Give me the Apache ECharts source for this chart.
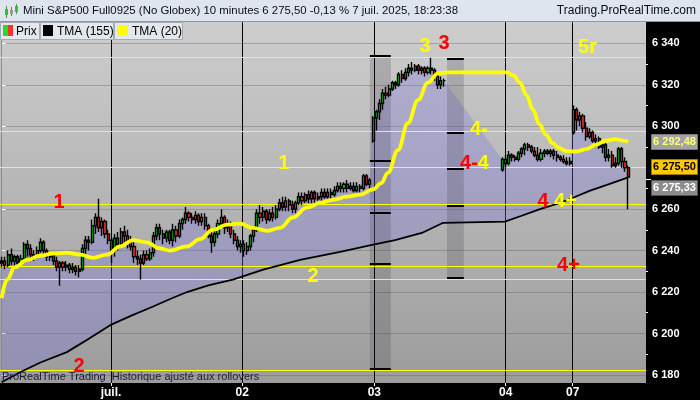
<!DOCTYPE html>
<html><head><meta charset="utf-8">
<script src="https://cdn.jsdelivr.net/npm/echarts@6/dist/echarts.min.js"></script>
<style>html,body{margin:0;padding:0;background:#000}#c{width:700px;height:400px}</style>
</head><body><div id="c"></div>
<script>
// ---------- DATA ----------
// bars are indexed by 10-minute slot; first block starts at slot 0, second block after the holiday gap
const startA = 0;
const candlesA = [ // [open, close, low, high]
[6234,6235,6232,6237],[6235,6233,6231,6237],[6233,6238,6232,6240],[6238,6235,6233,6241],[6235,6237,6232,6238],
[6237,6234,6232,6238],[6234,6236,6233,6238],[6236,6243,6235,6244],[6243,6241,6237,6245],[6241,6238,6236,6243],
[6238,6237,6235,6240],[6237,6240,6236,6242],[6240,6244,6239,6246],[6244,6240,6238,6245],[6240,6237,6235,6241],
[6237,6238,6235,6239],[6238,6235,6233,6239],[6235,6232,6230,6237],[6232,6234,6223,6235],[6234,6232,6230,6235],
[6232,6233,6230,6235],[6233,6231,6229,6234],[6231,6232,6229,6234],[6232,6230,6228,6233],[6230,6231,6227,6233],
[6231,6241,6230,6243],[6241,6245,6238,6247],[6245,6244,6240,6247],[6244,6252,6243,6255],[6252,6256,6248,6258],
[6256,6251,6249,6265],[6251,6254,6247,6256],[6254,6248,6246,6255],[6248,6245,6243,6250],
[6245,6240,6234,6246],[6240,6246,6237,6248],[6246,6243,6240,6249],[6243,6249,6242,6251],[6249,6247,6244,6252],
[6247,6244,6241,6250],[6244,6242,6240,6247],[6242,6237,6234,6244],[6237,6236,6233,6240],[6236,6234,6226,6238],
[6234,6238,6233,6240],[6238,6236,6235,6240],[6236,6239,6235,6241],[6239,6247,6237,6249],[6247,6251,6245,6253],
[6251,6248,6245,6253],[6248,6246,6243,6250],[6246,6249,6244,6250],[6249,6245,6243,6250],[6245,6250,6242,6253],
[6250,6247,6244,6252],[6247,6253,6246,6255],[6253,6255,6250,6256],[6255,6258,6253,6261],[6258,6256,6254,6259],
[6256,6255,6253,6258],[6255,6257,6253,6259],[6257,6254,6252,6258],[6254,6256,6252,6258],[6256,6252,6250,6258],
[6252,6247,6246,6253],[6247,6244,6239,6249],[6244,6248,6242,6250],[6248,6253,6246,6255],[6253,6256,6251,6260],
[6256,6251,6248,6257],[6251,6253,6249,6255],[6253,6248,6246,6254],[6248,6245,6243,6250],[6245,6242,6240,6247],
[6242,6243,6239,6245],
[6243,6240,6237,6245],[6240,6242,6238,6244],[6242,6247,6240,6248],[6247,6250,6244,6251],[6250,6258,6249,6260],
[6258,6256,6253,6262],[6256,6259,6254,6261],[6259,6255,6253,6260],[6255,6258,6254,6260],[6258,6256,6254,6261],
[6256,6260,6255,6262],[6260,6263,6259,6265],[6263,6261,6259,6266],[6261,6264,6259,6266],[6264,6262,6259,6265],
[6262,6260,6258,6264],[6260,6263,6258,6264],[6263,6266,6262,6268],[6266,6264,6262,6268],[6264,6267,6263,6268],
[6267,6265,6263,6269],[6265,6268,6263,6269],[6268,6265,6263,6269],[6265,6266,6264,6268],[6266,6268,6264,6270],
[6268,6266,6265,6270],[6266,6268,6265,6270],[6268,6267,6265,6270],[6267,6269,6266,6271],[6269,6271,6268,6273],
[6271,6270,6268,6273],[6270,6272,6268,6273],[6272,6270,6268,6274],[6270,6271,6269,6273],[6271,6269,6268,6273],
[6269,6271,6268,6273],[6271,6270,6268,6272],[6270,6276,6269,6277],[6276,6272,6271,6277],[6272,6274,6270,6275],
[6293,6304,6292,6305],[6304,6307,6298,6308],[6307,6311,6303,6313],[6311,6316,6308,6318],[6316,6315,6313,6319],
[6315,6318,6314,6320],[6318,6321,6317,6322],[6321,6320,6318,6322],[6320,6325,6319,6326],[6325,6323,6321,6327],
[6323,6326,6322,6328],[6326,6328,6324,6330],[6328,6327,6325,6331],[6327,6329,6326,6330],[6329,6327,6325,6330],
[6327,6328,6325,6329],[6328,6326,6324,6329],[6326,6328,6325,6329],[6328,6327,6325,6333],[6327,6324,6322,6328],
[6324,6320,6318,6326],[6320,6322,6318,6324],[6322,6322,6319,6323]
];
const startB = 155;
const candlesB = [
[6279,6284,6278,6285],[6284,6282,6280,6286],[6282,6286,6281,6288],[6286,6285,6283,6287],[6285,6284,6283,6286],
[6284,6287,6283,6288],[6287,6289,6285,6290],[6289,6291,6286,6292],[6291,6290,6288,6292],[6290,6288,6287,6291],
[6288,6286,6285,6290],[6286,6284,6283,6290],[6284,6287,6283,6289],[6287,6288,6285,6289],[6288,6287,6286,6289],
[6287,6288,6285,6289],[6288,6286,6284,6289],[6286,6285,6283,6288],[6285,6284,6283,6286],[6284,6283,6282,6286],
[6283,6282,6281,6285],[6282,6283,6281,6285],
[6297,6308,6296,6310],[6308,6303,6298,6309],[6303,6305,6300,6307],[6305,6299,6297,6306],[6299,6295,6293,6302],
[6295,6297,6294,6299],[6297,6293,6292,6298],[6293,6294,6290,6296],[6294,6290,6289,6295],[6290,6291,6287,6293],
[6291,6285,6283,6292],[6285,6286,6283,6289],[6286,6281,6280,6288],[6281,6282,6280,6285],[6282,6289,6281,6290],
[6289,6283,6280,6290],[6283,6280,6278,6285],[6280,6275.5,6260,6281]
];
const tma20 = [
[0,6217],[1.7,6226],[4.1,6232],[7.9,6235.5],[11.9,6237.5],[16,6238.6],[20.2,6239],[24.3,6238],[28.3,6236.5],
[32.6,6238],[36.7,6242],[40.7,6245],[45,6244],[49,6241],[52.1,6240],[57.4,6242],[61.4,6245.5],[65.4,6250],
[69.8,6252.5],[73.8,6253],[77.8,6251],[82.2,6249.5],[86.2,6251],[90.2,6256],[94.5,6260.7],[98.6,6263],
[102.6,6264.5],[107,6266],[111,6267],[115,6269.5],[117.5,6272.5],[119.6,6277.5],[122.7,6288.5],[125.8,6301.5],
[128.9,6312.6],[132,6321],[135.1,6325.5],[138.2,6326],[147,6326],[156.5,6326],[158.5,6324.5],[160.5,6321],
[162.5,6315],[164.5,6308],[166.5,6301],[168.5,6296],[170.5,6292],[172.5,6289.5],[175,6288],[178,6287.8],
[181,6289],[184,6291],[187,6293],[190,6293.8],[192,6293.2],[194,6292.48]
];
const tma155 = [
[0,6176.5],[6,6181.5],[12,6186],[20.2,6191],[27,6197.5],[33.6,6204],[40,6208.5],[46.9,6213],[52,6216.5],
[57.4,6220],[64,6223.2],[71.6,6226],[81,6230.8],[92.4,6235.5],[104.8,6239.4],[114,6242.5],[121.8,6245],
[130.1,6248.5],[136.7,6253.4],[155.8,6254],[161,6256.8],[166.7,6260],[172.9,6263],[176.9,6265.5],
[182,6268.8],[187.4,6271.7],[194,6275.33]
];
const hLevels = [6333.2, 6297.8, 6280.3, 6262.3, 6232.7, 6226.3, 6182.4];
const bandSpans = [[114, 120.5], [137.9, 143.1]];
const bandLevels = [
  [6333.8, 6283.2, 6258.1, 6233.5, 6182.9],
  [6332.4, 6296.9, 6279.4, 6261.7, 6226.8]
];
const yTicks = [6180,6200,6220,6240,6260,6280,6300,6320,6340];
const yMinor = [6190,6210,6230,6250,6270,6290,6310,6330];
const dayBreaks = [33.87, 74.5, 115.4, 156.06, 176.8];
const dayLabels = ['juil.', '02', '03', '04', '07'];
const noteTexts = ['{r|1}','{y|1}','{y|2}','{r|2}','{y|3}','{r|3}','{y|4-}','{r|4-}{y|4}','{r|4} {y|4+}','{r|4+}','{y|5r}'];
const noteSlots = [17.8, 87.4, 96.4, 24, 131.1, 137, 147.8, 146.4, 172, 175.5, 181.4];
const notePrices = [6263.2, 6282, 6227.3, 6184, 6338.7, 6340.1, 6298.2, 6281.8, 6263.9, 6232.8, 6338];
const titleText = 'Mini S&P500 Full0925 (No Globex) 10 minutes 6 275,50 -0,13 % 7 juil. 2025, 18:23:38';
const siteText = 'Trading.ProRealTime.com';
const footText = 'ProRealTime Trading  Historique ajusté aux rollovers';
const legendNames = ['Prix', 'TMA (155)', 'TMA (20)'];

// ---------- BUILD ----------
const candleData = candlesA.map((d, i) => [startA + i].concat(d))
  .concat(candlesB.map((d, i) => [startB + i].concat(d)));
const lastClose = candleData[candleData.length - 1][2];
const lastT20 = tma20[tma20.length - 1][1];
const lastT155 = tma155[tma155.length - 1][1];

function fmt(v, d) {
  const s = v.toFixed(d);
  const parts = s.split('.');
  const ip = parts[0].replace(/\B(?=(\d{3})+(?!\d))/g, ' ');
  return parts[1] ? ip + ',' + parts[1] : ip;
}
const FF = '"Liberation Sans", Arial, sans-serif';
const Y_MIN = 6176.1, Y_MAX = 6350.3;

const chart = echarts.init(document.getElementById('c'), null, {renderer: 'canvas'});

const option = {
  animation: false,
  backgroundColor: '#000',
  grid: {
    left: 0, right: 54, top: 22, bottom: 17, show: true, borderWidth: 0,
    backgroundColor: new echarts.graphic.LinearGradient(0, 0, 0, 1, [
      {offset: 0, color: '#cdcdcd'}, {offset: 1, color: '#9c9c9c'}])
  },
  xAxis: {
    type: 'value', min: -0.5, max: 199.5,
    axisLine: {show: false},
    axisTick: {show: true, customValues: dayBreaks, length: 3, lineStyle: {color: '#fff'}},
    axisLabel: {customValues: dayBreaks, color: '#fff', fontWeight: 'bold', fontSize: 12, fontFamily: FF, margin: 4,
      formatter: v => { const i = dayBreaks.indexOf(v); return i >= 0 ? dayLabels[i] : ''; }},
    splitLine: {show: true, lineStyle: {color: '#000', width: 1}}
  },
  yAxis: [{
    type: 'value', position: 'right', min: Y_MIN, max: Y_MAX,
    axisLine: {show: true, lineStyle: {color: '#8a8a8a'}},
    axisTick: {show: true, customValues: yTicks, length: 4, lineStyle: {color: '#fff'}},
    axisLabel: {customValues: yTicks, color: '#fff', fontWeight: 'bold', fontSize: 11, fontFamily: FF, margin: 6,
      formatter: v => fmt(v, 0)},
    splitLine: {show: true, lineStyle: {color: 'rgba(90,90,90,0.35)', width: 1}}
  }, {
    type: 'value', position: 'right', min: Y_MIN, max: Y_MAX,
    axisLine: {show: false},
    axisTick: {show: true, customValues: yMinor, length: 2, lineStyle: {color: '#fff'}},
    axisLabel: {show: false},
    splitLine: {show: false}
  }],
  series: [
    { // fill between price and TMA(155)
      type: 'custom', z: 1, silent: true, data: [[0, 6250]],
      renderItem: (params, api) => {
        const pts = candleData.map(d => api.coord([d[0], d[2]]));
        for (let i = tma155.length - 1; i >= 0; i--) pts.push(api.coord(tma155[i]));
        return {type: 'polygon', shape: {points: pts}, style: {fill: 'rgba(122,116,225,0.3)'}};
      }
    },
    { // shaded range bands with level marks
      type: 'custom', z: 2, silent: true,
      data: bandSpans.map((s, i) => [s[0], s[1], i]),
      renderItem: (params, api) => {
        const lv = bandLevels[api.value(2)];
        const p0 = api.coord([api.value(0), lv[0]]);
        const p1 = api.coord([api.value(1), lv[lv.length - 1]]);
        const w = p1[0] - p0[0];
        const children = [{type: 'rect', shape: {x: p0[0], y: p0[1], width: w, height: p1[1] - p0[1]},
          style: {fill: 'rgba(40,40,50,0.18)'}}];
        lv.forEach(v => {
          const y = Math.round(api.coord([0, v])[1]);
          children.push({type: 'rect', shape: {x: p0[0], y: y - 1, width: w, height: 2}, style: {fill: '#000'}});
        });
        return {type: 'group', children};
      }
    },
    { // horizontal yellow levels
      type: 'custom', z: 3, silent: true,
      data: hLevels.map(v => [0, v]),
      renderItem: (params, api) => {
        const cs = params.coordSys;
        const y = Math.round(api.coord([0, api.value(1)])[1]) + 0.5;
        return {type: 'line', shape: {x1: cs.x, y1: y, x2: cs.x + cs.width, y2: y},
          style: {stroke: '#ffff00', lineWidth: 1}};
      }
    },
    {
      name: 'TMA (155)', type: 'line', z: 4, data: tma155, showSymbol: false, smooth: false,
      lineStyle: {color: '#000', width: 1.8}
    },
    {
      name: 'Prix', type: 'candlestick', z: 5, data: candleData, barWidth: 2.6,
      itemStyle: {color: '#00e400', color0: '#ff2a2a', borderColor: '#000', borderColor0: '#000', borderWidth: 1.4}
    },
    {
      name: 'TMA (20)', type: 'line', z: 6, data: tma20, showSymbol: false, smooth: 0.4, smoothMonotone: 'x',
      lineStyle: {color: '#ffff00', width: 3.8}
    },
    { // annotations
      type: 'custom', z: 10, silent: true,
      data: noteSlots.map((s, i) => [s, notePrices[i], i]),
      renderItem: (params, api) => {
        const p = api.coord([api.value(0), api.value(1)]);
        const st = {fontSize: 20, fontWeight: 'bold', fontFamily: FF};
        return {type: 'text', x: p[0], y: p[1], style: {
          text: noteTexts[api.value(2)], align: 'center', verticalAlign: 'middle',
          textAlign: 'center', textVerticalAlign: 'middle',
          font: 'bold 20px ' + FF,
          rich: {r: Object.assign({fill: '#ff0000'}, st), y: Object.assign({fill: '#ffff00'}, st)}
        }};
      }
    }
  ]
};
chart.setOption(option);

// ---------- HEADER, LEGEND, TAGS ----------
const g = [];
g.push({type: 'rect', shape: {x: 0, y: 0, width: 700, height: 21}, style: {fill: '#dfe5ec'}, z: 20});
g.push({type: 'line', shape: {x1: 0, y1: 21.5, x2: 700, y2: 21.5}, style: {stroke: '#8d97a1', lineWidth: 1}, z: 20});
// header candle icon
g.push({type: 'line', shape: {x1: 6.5, y1: 6, x2: 6.5, y2: 18}, style: {stroke: '#6a7a6a', lineWidth: 1}, z: 21});
g.push({type: 'rect', shape: {x: 5, y: 9, width: 3, height: 6}, style: {fill: '#22cc22'}, z: 21});
g.push({type: 'line', shape: {x1: 11.5, y1: 7, x2: 11.5, y2: 16}, style: {stroke: '#6a7a6a', lineWidth: 1}, z: 21});
g.push({type: 'rect', shape: {x: 10, y: 10, width: 3, height: 4}, style: {fill: '#999'}, z: 21});
g.push({type: 'line', shape: {x1: 16.5, y1: 4, x2: 16.5, y2: 14}, style: {stroke: '#6a7a6a', lineWidth: 1}, z: 21});
g.push({type: 'rect', shape: {x: 15, y: 6, width: 3, height: 6}, style: {fill: '#22cc22'}, z: 21});
g.push({type: 'text', x: 23, y: 11, z: 21, style: {text: titleText, fill: '#0c0c18', font: '11.4px ' + FF,
  align: 'left', verticalAlign: 'middle', textAlign: 'left', textVerticalAlign: 'middle'}});
g.push({type: 'text', x: 696, y: 11, z: 21, style: {text: siteText, fill: '#0c0c18', font: '12px ' + FF,
  align: 'right', verticalAlign: 'middle', textAlign: 'right', textVerticalAlign: 'middle'}});
// legend
const legBoxes = [[0.5, 39], [40.5, 73], [114.5, 68]];
const legText = [16, 57, 132];
legBoxes.forEach((b, i) => {
  g.push({type: 'rect', shape: {x: b[0], y: 22.5, width: b[1], height: 17}, style: {fill: '#e3e8ed', stroke: '#a3acb5', lineWidth: 1}, z: 20});
  g.push({type: 'text', x: legText[i], y: 31.5, z: 21, style: {text: legendNames[i], fill: '#000', font: '12px ' + FF,
    align: 'left', verticalAlign: 'middle', textAlign: 'left', textVerticalAlign: 'middle'}});
});
g.push({type: 'rect', shape: {x: 3, y: 25, width: 5, height: 11}, style: {fill: '#22dd22'}, z: 21});
g.push({type: 'rect', shape: {x: 8, y: 25, width: 5, height: 11}, style: {fill: '#ff3030'}, z: 21});
g.push({type: 'rect', shape: {x: 43, y: 25, width: 10, height: 11}, style: {fill: '#000'}, z: 21});
g.push({type: 'rect', shape: {x: 117, y: 25, width: 11, height: 11}, style: {fill: '#ffff00'}, z: 21});
// footer note
g.push({type: 'text', x: 2, y: 377, z: 21, style: {text: footText, fill: '#1a1a3a', font: '11px ' + FF,
  align: 'left', verticalAlign: 'middle', textAlign: 'left', textVerticalAlign: 'middle'}});
// value tags on the price axis
const tagVals = [lastT20, lastClose, lastT155];
const tagStyle = [
  {bg: '#a2a2a2', fg: '#ffff70', st: '#7a7a7a'},
  {bg: '#ffc800', fg: '#000', st: '#a07800'},
  {bg: '#8c8c8c', fg: '#fff', st: '#555'}
];
const ys = tagVals.map(v => chart.convertToPixel({yAxisIndex: 0}, v));
if (ys[2] - ys[1] < 21) { const m = (ys[1] + ys[2]) / 2; ys[1] = m - 10.5; ys[2] = m + 10.5; }
if (ys[1] - ys[0] < 21) { ys[0] = ys[1] - 21; }
g.push({type: 'line', shape: {x1: 646, y1: Math.round(ys[2]) - 8.5, x2: 651, y2: Math.round(ys[2]) - 8.5}, style: {stroke: '#fff'}, z: 21});
tagVals.forEach((v, i) => {
  const y = Math.round(ys[i]);
  g.push({type: 'rect', shape: {x: 651.5, y: y - 7.5, width: 46, height: 15}, style: {fill: tagStyle[i].bg, stroke: tagStyle[i].st, lineWidth: 1}, z: 21});
  g.push({type: 'text', x: 674.5, y: y, z: 22, style: {text: fmt(v, 2), fill: tagStyle[i].fg, font: 'bold 11px ' + FF,
    align: 'center', verticalAlign: 'middle', textAlign: 'center', textVerticalAlign: 'middle'}});
});
chart.setOption({graphic: g});
</script></body></html>
